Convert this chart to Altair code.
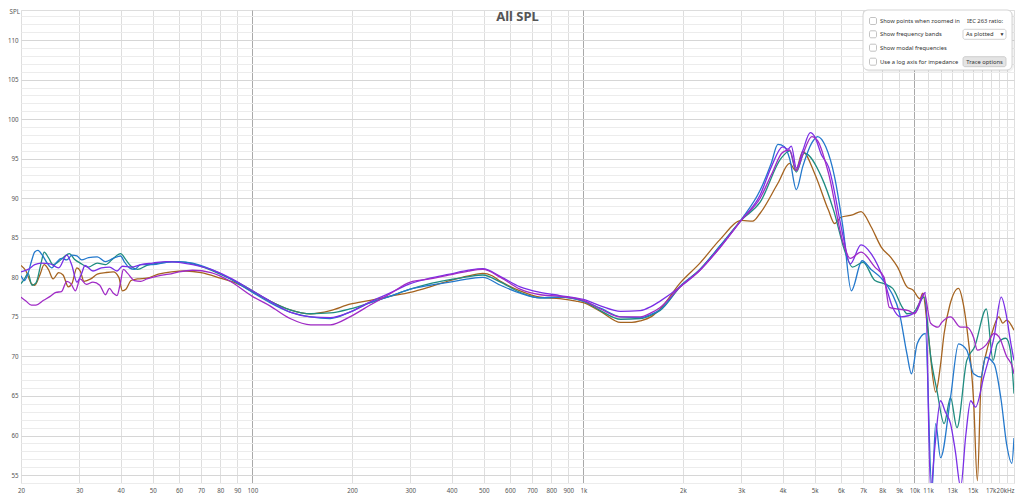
import altair as alt
import pandas as pd

# ---------------- data ----------------
series_names = ["Brown", "Teal", "Blue", "Violet", "Magenta"]
series_colors = ["#a5631f", "#1f8c80", "#2378cc", "#7a2fe6", "#a02bc6"]

brown_f = [20, 20.7, 21.5, 22, 22.8, 23.5, 24.2, 25, 26, 26.8, 27.8, 28.5, 29.5, 30.2, 31, 32.5, 34, 36, 38, 39.5,
           40.5, 41.5, 43, 45, 48, 52, 57, 63, 70, 80, 90, 100, 113, 130, 150, 172, 197, 227, 260, 300,
           344, 395, 450, 497, 530, 562, 644, 741, 849, 950, 1000, 1126, 1296, 1400, 1487, 1600, 1706, 1962, 2250, 2590,
           3010, 3250, 3420, 3870, 4200, 4380, 4600, 5000, 5500, 5740, 6000, 6500, 6900, 7400, 7950, 8500, 8900, 9500, 9900, 10400,
           10600, 11000, 11600, 12000, 12300, 12800, 13600, 14000, 14400, 15100, 15500, 15900, 16500, 17000, 18000, 18500, 19000, 20000]
brown_v = [81.5, 80.8, 79.2, 79.0, 80.3, 81.6, 81.0, 79.8, 80.6, 80.3, 78.8, 79.2, 81.2, 80.8, 79.5, 79.8, 80.4, 80.6, 80.7, 80.0,
           78.3, 78.5, 79.6, 79.8, 79.9, 80.4, 80.7, 80.8, 80.6, 79.9, 79.2, 78.2, 77.0, 75.9, 75.4, 75.8, 76.6, 77.1, 77.6, 78.1,
           78.8, 79.6, 80.2, 80.5, 80.2, 79.5, 78.3, 77.5, 77.3, 77.0, 76.8, 75.7, 74.3, 74.3, 74.5, 75.0, 76.0, 79.3, 81.8, 84.8,
           87.2, 87.1, 88.1, 91.9, 94.4, 93.5, 95.9, 93.1, 88.5, 86.8, 87.6, 87.9, 88.3, 86.4, 83.8, 82.5, 81.3, 78.8, 78.4, 77.3,
           78.0, 73.0, 65.5, 69.0, 72.9, 76.5, 78.6, 77.0, 73.7, 64.4, 54.3, 66.6, 70.5, 72.4, 75.0, 74.2, 74.6, 73.3]

teal_f = [20, 20.5, 21, 21.6, 22.2, 23, 23.5, 24.2, 25, 26, 27, 28, 29, 30.2, 32, 34, 36, 38, 40, 41.5,
          43, 45, 48, 52, 57, 63, 70, 80, 90, 100, 113, 130, 150, 172, 197, 227, 260, 300, 344, 395,
          450, 497, 562, 644, 741, 849, 1000, 1126, 1296, 1487, 1600, 1706, 1962, 2250, 2590, 3010, 3420, 3950, 4200, 4400,
          4650, 5240, 5700, 6200, 6500, 7000, 7600, 8100, 8600, 9200, 9500, 9900, 10700, 11200, 11700, 12300, 12860, 13450, 14400, 15200,
          16500, 17300, 17800, 18900, 19500, 20000]
teal_v = [79.2, 79.8, 80.5, 79.0, 79.3, 81.8, 83.2, 82.5, 81.6, 82.0, 82.6, 83.0, 82.3, 81.8, 81.3, 81.8, 81.6, 82.4, 83.0, 82.2,
          81.4, 81.0, 81.5, 81.8, 82.0, 81.9, 81.4, 80.4, 79.4, 78.3, 77.0, 75.9, 75.4, 75.5, 76.0, 76.8, 77.6, 78.5, 79.2, 79.7,
          80.1, 80.3, 79.4, 78.1, 77.4, 77.5, 77.0, 75.8, 74.7, 74.8, 75.2, 75.8, 78.8, 81.0, 84.0, 87.3, 89.5, 95.0, 96.0, 93.3,
          95.7, 92.7, 88.5, 83.0, 81.3, 81.9, 79.6, 79.2, 78.6, 76.2, 75.4, 75.5, 77.5, 70.0, 65.7, 61.5, 64.8, 61.0, 69.5, 71.2,
          76.0, 69.5, 71.6, 72.3, 70.8, 65.3]

blue_f = [20, 20.5, 21, 21.5, 22, 22.5, 23.2, 24, 24.8, 25.5, 26.5, 27.5, 28.5, 29.5, 30.5, 32, 34, 36, 38, 40,
          41, 42.5, 44, 46, 50, 55, 60, 66, 75, 85, 100, 113, 130, 150, 172, 197, 227, 260, 300, 344,
          395, 450, 497, 562, 644, 741, 849, 1000, 1126, 1296, 1487, 1600, 1706, 1962, 2250, 2590, 3010, 3420, 3700, 3870,
          4050, 4200, 4400, 4600, 4900, 5100, 5400, 5740, 6100, 6450, 6950, 7400, 7900, 8550, 9000, 9500, 9800, 10200, 10800, 11300,
          11600, 12000, 12860, 13600, 14400, 15100, 15900, 16400, 17400, 18300, 19000, 19700, 20000]
blue_v = [80.2, 79.6, 80.5, 82.0, 83.2, 83.4, 82.8, 81.8, 81.2, 81.8, 82.4, 82.2, 82.8, 82.7, 82.2, 82.5, 82.6, 82.0, 82.4, 82.7,
          82.0, 81.2, 81.0, 81.6, 81.6, 81.9, 82.0, 81.8, 81.0, 79.9, 78.1, 76.8, 75.6, 75.0, 74.8, 75.6, 76.8, 77.6, 78.5, 79.0,
          79.4, 79.8, 80.0, 79.0, 78.0, 77.4, 77.5, 77.0, 76.1, 75.0, 74.9, 75.3, 75.9, 78.9, 81.0, 84.0, 87.4, 91.0, 94.5, 96.8,
          96.5, 95.0, 91.1, 94.0, 97.0, 97.8, 96.5, 92.7, 86.0, 78.3, 82.1, 81.0, 80.0, 78.0, 75.6, 70.3, 67.8, 71.6, 72.9, 53.0,
          61.5, 57.2, 64.8, 71.6, 70.8, 67.8, 67.4, 69.9, 69.1, 64.4, 58.9, 56.5, 59.7]

violet_f = [20, 21, 22, 23, 24.5, 26, 27.5, 28.5, 29.5, 30.5, 31.2, 33, 35, 37, 39, 40.5, 43, 46, 50, 55,
            60, 66, 75, 85, 100, 113, 130, 150, 172, 197, 227, 260, 300, 344, 395, 450, 497, 562, 644, 741,
            849, 1000, 1126, 1296, 1487, 1600, 1706, 1962, 2250, 2590, 3010, 3420, 3700, 4000, 4150, 4250, 4400, 4600, 4850, 5000,
            5240, 5500, 6100, 6400, 6900, 7400, 8100, 8600, 9100, 10100, 10800, 11200, 11500, 12000, 12400, 12860, 13300, 13800, 14300, 14800,
            15300, 16200, 17400, 18300, 19000, 19500, 20000]
violet_v = [80.7, 81.0, 81.6, 81.8, 81.7, 81.2, 82.8, 81.5, 79.4, 80.5, 81.5, 80.8, 81.2, 81.3, 80.8, 81.4, 81.3, 81.6, 81.8, 82.0,
            81.9, 81.6, 81.0, 80.0, 78.3, 77.0, 75.6, 75.0, 74.9, 75.6, 76.9, 78.0, 79.2, 79.9, 80.4, 80.9, 81.1, 80.1, 78.8, 78.1,
            77.7, 77.2, 76.4, 75.7, 75.8, 76.3, 77.0, 78.8, 80.9, 83.8, 87.3, 90.4, 94.0, 96.5, 96.2, 96.6, 93.8, 96.0, 98.3, 97.8,
            95.5, 94.0, 85.1, 81.7, 84.1, 83.0, 79.6, 76.2, 75.0, 75.6, 78.1, 53.0, 58.0, 64.4, 63.0, 61.5, 58.0, 53.5, 60.0, 64.4,
            63.6, 67.4, 72.4, 77.5, 75.0, 72.0, 69.5]

magenta_f = [20, 20.7, 21.5, 22.2, 23.4, 24.5, 25.5, 26.5, 27.5, 28.3, 29.2, 30.2, 31.5, 33, 34.6, 36, 37, 38, 39, 39.8,
             40.8, 42, 44, 46, 48, 52, 56, 60, 66, 75, 85, 100, 113, 130, 150, 172, 197, 227, 260, 300,
             344, 395, 450, 497, 562, 644, 741, 849, 1000, 1126, 1296, 1487, 1600, 1706, 1962, 2250, 2590, 3010, 3420, 3700,
             4000, 4200, 4400, 4600, 4900, 5100, 5500, 6100, 6400, 6900, 7600, 8100, 8400, 8900, 9600, 10000, 10700, 11200, 11800, 12100,
             12860, 13800, 14400, 15100, 15500, 16500, 17400, 18000, 19000, 19800, 20000]
magenta_v = [77.5, 77.0, 76.5, 76.5, 77.1, 77.6, 78.1, 78.2, 79.5, 79.2, 78.3, 79.8, 79.1, 79.4, 79.0, 77.8, 78.6, 78.0, 77.7, 79.0,
             81.0, 80.5, 79.6, 79.5, 79.8, 80.2, 80.4, 80.7, 80.9, 80.6, 79.6, 77.6, 76.4, 74.8, 74.0, 74.0, 75.0, 76.5, 77.9, 79.4,
             79.8, 80.3, 80.8, 81.0, 80.0, 78.5, 77.8, 77.6, 77.1, 76.0, 75.0, 75.0, 75.5, 76.2, 78.8, 80.9, 83.8, 87.3, 90.0, 93.0,
             95.8, 96.1, 93.5, 95.5, 97.8, 97.3, 93.2, 84.3, 82.4, 83.2, 81.3, 80.0, 76.2, 76.0, 75.8, 75.4, 78.0, 74.2, 73.7, 74.3,
             75.0, 73.7, 73.7, 72.4, 70.8, 71.5, 72.9, 72.5, 70.0, 68.6, 67.8]

x_grid_values = [20, 30, 40, 50, 60, 70, 80, 90, 100, 200, 300, 400, 500, 600, 700, 800, 900,
                 1000, 2000, 3000, 4000, 5000, 6000, 7000, 8000, 9000, 10000,
                 11000, 12000, 13000, 14000, 15000, 16000, 17000, 18000, 19000, 20000]
x_label_values = [20, 30, 40, 50, 60, 70, 80, 90, 100, 200, 300, 400, 500, 600, 700, 800, 900,
                  1000, 2000, 3000, 4000, 5000, 6000, 7000, 8000, 9000, 10000, 11000, 13000, 15000, 17000, 20000]
x_labels = ["20", "30", "40", "50", "60", "70", "80", "90", "100", "200", "300", "400", "500", "600", "700", "800", "900",
            "1k", "2k", "3k", "4k", "5k", "6k", "7k", "8k", "9k", "10k", "11k", "13k", "15k", "17k", "20kHz"]
x_major_values = [100, 1000, 10000]
y_grid_values = list(range(54, 114))
y_label_values = [55, 60, 65, 70, 75, 80, 85, 90, 95, 100, 105, 110]

chart_title = "All SPL"
option_labels = ["Show points when zoomed in", "Show frequency bands",
                 "Show modal frequencies", "Use a log axis for impedance"]

# ---------------- build table ----------------
all_series = [brown_f, brown_v, teal_f, teal_v, blue_f, blue_v, violet_f, violet_v, magenta_f, magenta_v]
rows = []
for i, name in enumerate(series_names):
    fs, vs = all_series[2 * i], all_series[2 * i + 1]
    assert len(fs) == len(vs), (name, len(fs), len(vs))
    for f, v in zip(fs, vs):
        rows.append({"series": name, "freq": f, "spl": v})
df = pd.DataFrame(rows)

FONT = "Noto Sans"

expr = "''"
for v, lab in reversed(list(zip(x_label_values, x_labels))):
    expr = f"datum.value == {v} ? '{lab}' : ({expr})"
x_label_expr = expr
y_label_expr = "indexof([" + ",".join(str(v) for v in y_label_values) + "], datum.value) >= 0 ? '' + datum.value : ''"
x_major_test = " || ".join(f"datum.value == {v}" for v in x_major_values)

x_enc = alt.X("freq:Q",
              scale=alt.Scale(type="log", domain=[20, 20000], nice=False),
              axis=alt.Axis(values=x_grid_values, labelExpr=x_label_expr, title=None,
                            ticks=False, domain=False, labelOverlap=False, labelFlush=False,
                            labelAlign={"condition": {"test": "datum.value >= 20000", "value": "right"}, "value": "center"},
                            labelFont=FONT, labelFontSize=6.2, labelColor="#555", labelPadding=4,
                            grid=True,
                            gridColor={"condition": {"test": x_major_test, "value": "#a9a9a9"}, "value": "#dedede"},
                            gridWidth=1))
y_enc = alt.Y("spl:Q",
              scale=alt.Scale(domain=[54, 113.8], nice=False, zero=False),
              axis=alt.Axis(values=y_grid_values, labelExpr=y_label_expr, title="SPL",
                            titleAngle=0, titleX=-12, titleY=-1.5, titleAlign="left", titleBaseline="top",
                            titleFont=FONT, titleFontSize=6.2, titleFontWeight="normal", titleColor="#555",
                            ticks=False, domain=False, labelOverlap=False,
                            labelFont=FONT, labelFontSize=6.2, labelColor="#555", labelPadding=3,
                            grid=True,
                            gridColor={"condition": {"test": "datum.value % 5 == 0", "value": "#d6d6d6"}, "value": "#ececec"},
                            gridWidth=1))

lines = alt.Chart(df).mark_line(strokeWidth=1.3, interpolate="monotone", clip=True).encode(
    x=x_enc, y=y_enc,
    color=alt.Color("series:N", scale=alt.Scale(domain=series_names, range=series_colors), legend=None),
    detail="series:N",
)

one = pd.DataFrame({"k": [0]})


def box(x1, x2, y1, y2, **kw):
    return alt.Chart(one).mark_rect(**kw).encode(
        x=alt.value(x1), x2=alt.value(x2), y=alt.value(y1), y2=alt.value(y2))


def label(txt, x, y, align="left", size=5.8, color="#333", weight="normal"):
    return alt.Chart(one).mark_text(text=txt, align=align, baseline="middle", fontSize=size,
                                    font=FONT, color=color, fontWeight=weight).encode(x=alt.value(x), y=alt.value(y))


title_layer = label(chart_title, 496.5, 7, align="center", size=13, color="#555", weight="bold")

row_y = [11, 24.3, 37.7, 51.7]
panel = [
    box(843, 993, 1, 62, fill="#000000", opacity=0.05, cornerRadius=6),
    box(842, 991, 0, 60, fill="white", stroke="#d4d4d4", strokeWidth=1, cornerRadius=5),
]
for txt, yy in zip(option_labels, row_y):
    panel.append(box(848.5, 855.5, yy - 3.5, yy + 3.5, fill="white", stroke="#b4b4b4", strokeWidth=0.8, cornerRadius=1.5))
    panel.append(label(txt, 859, yy))
panel += [
    label("IEC 263 ratio:", 946, row_y[0]),
    box(942, 985, 19.3, 29.3, fill="white", stroke="#c8c8c8", strokeWidth=0.8, cornerRadius=2),
    label("As plotted", 945, row_y[1]),
    label("▼", 981, row_y[1], align="center", size=5),
    box(942, 985, 46.7, 56.7, fill="#e4e4e4", stroke="#c4c4c4", strokeWidth=0.8, cornerRadius=2),
    label("Trace options", 963.5, row_y[3], align="center"),
]

chart = alt.layer(lines, title_layer, *panel).properties(
    width=993, height=473,
    autosize=alt.AutoSizeParams(type="none"),
    padding={"left": 13, "top": 2, "right": 2, "bottom": 14},
).configure_view(stroke="#cfcfcf", strokeWidth=1).configure(background="white")

chart.save("out.html", embed_options={"renderer": "svg", "actions": False})
